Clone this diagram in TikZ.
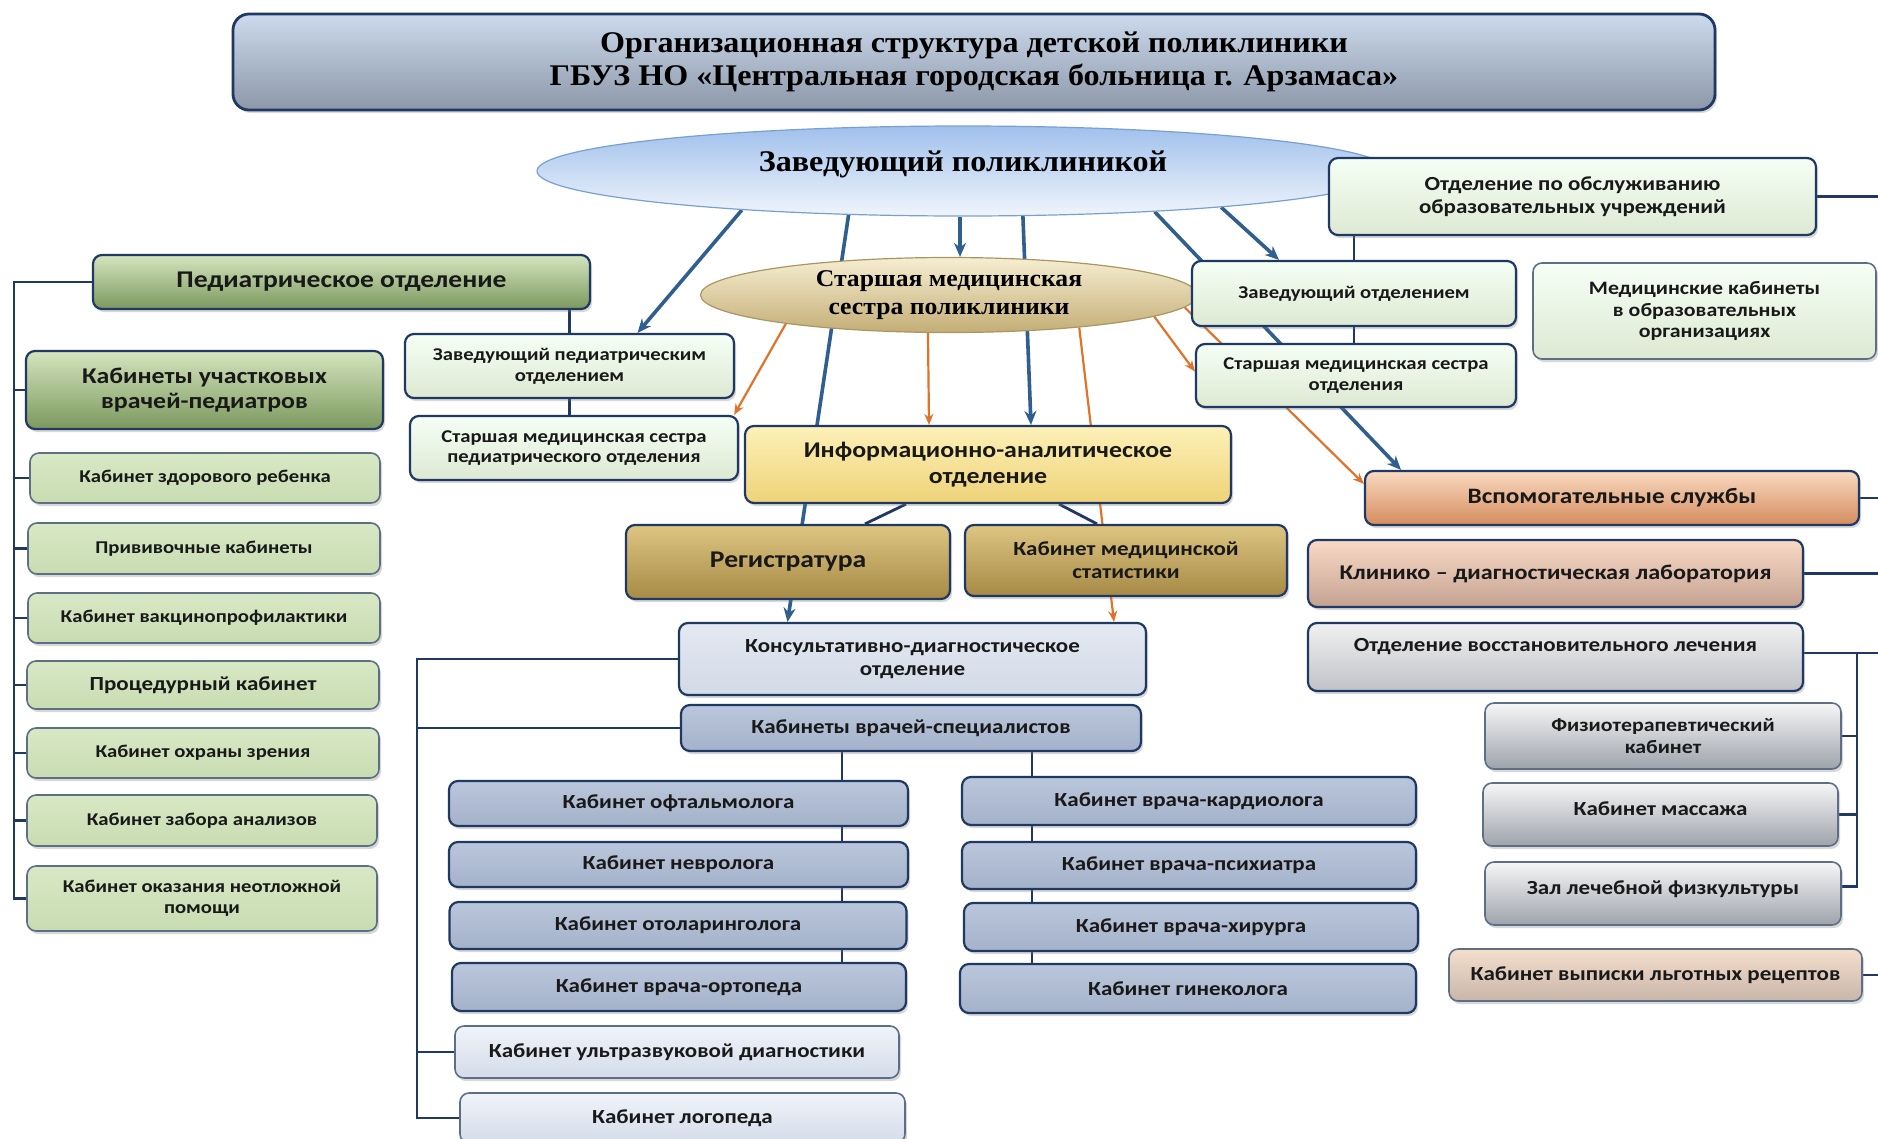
\documentclass[tikz,border=0pt]{standalone}
\usepackage{fontspec}
\setmainfont{Carlito}[FakeStretch=1.15]
\newfontfamily\serifb{Liberation Serif}[FakeStretch=1.07]
\usetikzlibrary{shapes.geometric,shadows,backgrounds,arrows.meta}

\definecolor{navy}{HTML}{1F3864}
\definecolor{bluearr}{HTML}{2F5F8F}
\definecolor{orarr}{HTML}{E0732A}
\definecolor{bordgray}{HTML}{5C6F86}

\tikzset{
  shd/.style={drop shadow={shadow xshift=2pt, shadow yshift=-3pt, opacity=0.3}},
  basebox/.style={rounded corners=9pt, align=center, inner sep=2pt, text=black!90, shd},
  tf/.code={\pgfmathsetmacro\tfls{#1*1.15}\tikzset{font=\fontsize{#1}{\tfls}\selectfont\bfseries}},
  palebox/.style={basebox, draw=navy, line width=2.2pt, top color=black!2!green!4!white, bottom color={rgb,255:red,221;green,233;blue,211}},
  gbox/.style={basebox, draw=bordgray, line width=1.6pt, top color={rgb,255:red,216;green,232;blue,197}, bottom color={rgb,255:red,200;green,220;blue,178}},
  darkg/.style={basebox, draw=navy, line width=2.2pt, top color={rgb,255:red,212;green,229;blue,190}, bottom color={rgb,255:red,124;green,152;blue,94}},
  infob/.style={basebox, draw=navy, line width=2.2pt, top color={rgb,255:red,253;green,241;blue,184}, bottom color={rgb,255:red,238;green,210;blue,120}},
  regb/.style={basebox, draw=navy, line width=2.2pt, top color={rgb,255:red,222;green,197;blue,130}, bottom color={rgb,255:red,166;green,138;blue,70}},
  konsb/.style={basebox, draw=navy, line width=2.2pt, top color={rgb,255:red,228;green,233;blue,242}, bottom color={rgb,255:red,210;green,218;blue,231}},
  specb/.style={basebox, draw=navy, line width=2.2pt, top color={rgb,255:red,186;green,198;blue,219}, bottom color={rgb,255:red,164;green,178;blue,202}},
  uzib/.style={basebox, draw=bordgray, line width=1.6pt, top color={rgb,255:red,240;green,243;blue,249}, bottom color={rgb,255:red,212;green,220;blue,234}},
  vspb/.style={basebox, draw=navy, line width=2.2pt, top color={rgb,255:red,250;green,218;blue,193}, bottom color={rgb,255:red,212;green,140;blue,94}},
  klinb/.style={basebox, draw=navy, line width=2.2pt, top color={rgb,255:red,249;green,218;blue,198}, bottom color={rgb,255:red,196;green,162;blue,146}},
  grayb/.style={basebox, draw=navy, line width=2.2pt, top color={rgb,255:red,241;green,241;blue,241}, bottom color={rgb,255:red,192;green,194;blue,199}},
  fizb/.style={basebox, draw=bordgray, line width=1.6pt, top color={rgb,255:red,246;green,246;blue,246}, bottom color={rgb,255:red,158;green,163;blue,171}},
  vypb/.style={basebox, draw=bordgray, line width=1.6pt, top color={rgb,255:red,245;green,222;blue,204}, bottom color={rgb,255:red,200;green,182;blue,170}},
  tree/.style={draw=navy, line width=2.8pt},
  barr/.style={draw=bluearr, line width=3.6pt, -{Stealth[length=14pt,width=12pt]}},
  oarr/.style={draw=orarr, line width=2.2pt, -{Stealth[length=11pt,width=9pt]}},
}

\begin{document}
\begin{tikzpicture}[x=1pt,y=-1pt]
\useasboundingbox (0,0) rectangle (1878,1138);

% title
\node[rounded corners=16pt, draw=navy, line width=2.8pt, top color={rgb,255:red,205;green,218;blue,237}, bottom color={rgb,255:red,140;green,152;blue,168}, shd, minimum width=1482pt, minimum height=96pt, align=center, font=\serifb\fontsize{30}{33}\selectfont\bfseries] (title) at (974,62)
 {Организационная структура детской поликлиники\\ГБУЗ НО «Центральная городская больница г. Арзамаса»};

% ellipses
\node[ellipse, draw={rgb,255:red,120;green,160;blue,210}, line width=1.2pt, top color={rgb,255:red,160;green,192;blue,236}, bottom color={rgb,255:red,240;green,245;blue,252}, minimum width=852pt, minimum height=90pt, inner sep=0pt, text depth=20pt, font=\serifb\fontsize{30}{36}\selectfont\bfseries] (zav) at (963,171) {Заведующий поликлиникой};
\node[ellipse, draw={rgb,255:red,170;green,150;blue,100}, line width=1.2pt, top color={rgb,255:red,246;green,238;blue,210}, bottom color={rgb,255:red,196;green,174;blue,118}, minimum width=497pt, minimum height=75pt, inner sep=0pt, align=center, font=\serifb\fontsize{24}{28}\selectfont\bfseries] (nurse) at (949,295) {Старшая медицинская\\сестра поликлиники};

% left column
\node[darkg, tf=24, minimum width=497pt, minimum height=54pt] (ped) at (341.5,282) {Педиатрическое отделение};
\node[darkg, tf=22.5, minimum width=357pt, minimum height=78pt] (uch) at (204.5,390) {Кабинеты участковых\\врачей-педиатров};
\node[gbox, tf=18, minimum width=350pt, minimum height=50pt] (g1) at (205,478) {Кабинет здорового ребенка};
\node[gbox, tf=18, minimum width=352pt, minimum height=51pt] (g2) at (204,548.5) {Прививочные кабинеты};
\node[gbox, tf=18, minimum width=352pt, minimum height=50pt] (g3) at (204,618) {Кабинет вакцинопрофилактики};
\node[gbox, tf=20, minimum width=352pt, minimum height=48pt] (g4) at (203,685) {Процедурный кабинет};
\node[gbox, tf=18, minimum width=352pt, minimum height=50pt] (g5) at (203,753) {Кабинет охраны зрения};
\node[gbox, tf=18, minimum width=350pt, minimum height=51pt] (g6) at (202,820.5) {Кабинет забора анализов};
\node[gbox, tf=18, minimum width=350pt, minimum height=65pt] (g7) at (202,898.5) {Кабинет оказания неотложной\\помощи};

% pediatric management
\node[palebox, tf=18, minimum width=329pt, minimum height=64pt] (zavped) at (569.5,366) {Заведующий педиатрическим\\отделением};
\node[palebox, tf=18, minimum width=328pt, minimum height=64pt] (nurseped) at (574,448) {Старшая медицинская сестра\\педиатрического отделения};

% center
\node[infob, tf=22.5, minimum width=486pt, minimum height=77pt] (info) at (988,464.5) {Информационно-аналитическое\\отделение};
\node[regb, tf=24, minimum width=324pt, minimum height=74pt] (reg) at (788,562) {Регистратура};
\node[regb, tf=20, minimum width=322pt, minimum height=71pt] (stat) at (1126,560.5) {Кабинет медицинской\\статистики};
\node[konsb, tf=20, minimum width=467pt, minimum height=72pt] (kons) at (912.5,659) {Консультативно-диагностическое\\отделение};
\node[specb, tf=20, minimum width=460pt, minimum height=46pt] (spec) at (911,728) {Кабинеты врачей-специалистов};

\node[specb, tf=20, minimum width=459pt, minimum height=45pt] (s1) at (678.5,803.5) {Кабинет офтальмолога};
\node[specb, tf=20, minimum width=459pt, minimum height=45pt] (s2) at (678.5,864.5) {Кабинет невролога};
\node[specb, tf=20, minimum width=457pt, minimum height=47pt] (s3) at (678,925.5) {Кабинет отоларинголога};
\node[specb, tf=20, minimum width=454pt, minimum height=48pt] (s4) at (679,987) {Кабинет врача-ортопеда};
\node[uzib, tf=20, minimum width=444pt, minimum height=52pt] (s5) at (677,1052) {Кабинет ультразвуковой диагностики};
\node[uzib, tf=20, minimum width=445pt, minimum height=50pt] (s6) at (682.5,1118) {Кабинет логопеда};

\node[specb, tf=20, minimum width=454pt, minimum height=48pt] (r1) at (1189,801) {Кабинет врача-кардиолога};
\node[specb, tf=20, minimum width=454pt, minimum height=47pt] (r2) at (1189,865.5) {Кабинет врача-психиатра};
\node[specb, tf=20, minimum width=454pt, minimum height=48pt] (r3) at (1191,927) {Кабинет врача-хирурга};
\node[specb, tf=20, minimum width=456pt, minimum height=49pt] (r4) at (1188,988.5) {Кабинет гинеколога};

% right upper
\node[palebox, tf=20, minimum width=487pt, minimum height=77pt] (obsl) at (1572.5,196.5) {Отделение по обслуживанию\\образовательных учреждений};
\node[palebox, tf=18, minimum width=324pt, minimum height=65pt] (zavotd) at (1354,293.5) {Заведующий отделением};
\node[palebox, tf=18, minimum width=320pt, minimum height=63pt] (nurseotd) at (1356,375.5) {Старшая медицинская сестра\\отделения};
\node[palebox, draw=bordgray, line width=1.6pt, tf=19, minimum width=343pt, minimum height=96pt] (medkab) at (1704.5,311) {Медицинские кабинеты\\в образовательных\\организациях};

% right lower
\node[vspb, tf=22, minimum width=494pt, minimum height=54pt] (vspom) at (1612,498) {Вспомогательные службы};
\node[klinb, tf=21, minimum width=495pt, minimum height=67pt] (klin) at (1555.5,573.5) {Клинико – диагностическая лаборатория};
\node[grayb, tf=20, minimum width=495pt, minimum height=68pt, text depth=28pt, text height=16pt] (vosst) at (1555.5,657) {Отделение восстановительного лечения};
\node[fizb, tf=19, minimum width=356pt, minimum height=66pt] (fiz) at (1663,736) {Физиотерапевтический\\кабинет};
\node[fizb, tf=20, minimum width=355pt, minimum height=63pt, text depth=12pt] (mass) at (1660.5,814.5) {Кабинет массажа};
\node[fizb, tf=20, minimum width=356pt, minimum height=63pt, text depth=12pt] (zal) at (1663,893.5) {Зал лечебной физкультуры};
\node[vypb, tf=20, minimum width=413pt, minimum height=52pt] (vyp) at (1655.5,975) {Кабинет выписки льготных рецептов};

% helper coordinates for bus lines
\coordinate (lb) at (14,0);
\coordinate (kb) at (417,0);
\coordinate (cl) at (842,0);
\coordinate (cr) at (1032,0);
\coordinate (rb) at (1857,0);
\coordinate (re) at (1878,0);

\begin{pgfonlayer}{background}
\fill[white] (0,0) rectangle (1878,1138);
% left bus
\draw[tree] (ped.west) -- (ped.west -| lb) -- (g7.west -| lb) -- (g7.west);
\foreach \n in {uch,g1,g2,g3,g4,g5,g6} \draw[tree] (\n.west -| lb) -- (\n.west);
\draw[tree] (zavped.north) -- (zavped.north |- ped.south);
\draw[tree] (zavped.south) -- (zavped.south |- nurseped.north);
% consultative bus
\draw[tree] (kons.west) -- (kons.west -| kb) -- (s6.west -| kb) -- (s6.west);
\foreach \n in {spec,s5} \draw[tree] (\n.west -| kb) -- (\n.west);
\draw[tree, line width=2pt] (spec.south -| cl) -- (s4.north -| cl);
\draw[tree] (spec.south -| cr) -- (r4.north -| cr);
% info to reg/stat
\draw[tree] ([xshift=-82pt]info.south) -- ([xshift=77pt]reg.north);
\draw[tree] ([xshift=71pt]info.south) -- ([xshift=-29pt]stat.north);
% right side
\draw[tree] (zavotd.north) -- (zavotd.north |- obsl.south);
\draw[tree] (zavotd.south) -- (zavotd.south |- nurseotd.north);
\draw[tree] (obsl.east) -- (obsl.east -| re);
\draw[tree] (vspom.east) -- (vspom.east -| re);
\draw[tree] (klin.east) -- (klin.east -| re);
\draw[tree] (vyp.east) -- (vyp.east -| re);
\draw[tree] ([yshift=4pt]vosst.east) -- ([yshift=4pt]vosst.east -| re);
\draw[tree] ([yshift=4pt]vosst.east -| rb) -- ([yshift=7pt]zal.east -| rb) -- ([yshift=7pt]zal.east);
\foreach \n in {fiz,mass} \draw[tree] (\n.east -| rb) -- (\n.east);

% blue arrows from head
\draw[barr] (zav.190.5) -- ([xshift=68pt]zavped.north);
\draw[barr] (zav.201.9) -- ([xshift=-125pt]kons.north);
\draw[barr] ([xshift=-3pt]zav.south) -- ([xshift=11pt]nurse.north);
\draw[barr] (zav.323.4) -- ([xshift=43pt]info.north);
\draw[barr] (zav.348.7) -- ([xshift=-211pt]vspom.north);
\draw[barr] (zav.352.7) -- ([xshift=-75pt]zavotd.north);

% orange arrows from senior nurse
\draw[oarr] (nurse.190.7) -- ([xshift=-5pt]nurseped.north east);
\draw[oarr] (nurse.241.9) -- ([xshift=-59pt]info.north);
\draw[oarr] (nurse.346.6) -- ([xshift=201.5pt]kons.north);
\draw[oarr] (nurse.354.3) -- ([yshift=4pt]nurseotd.west);
\draw[oarr] (nurse.357.8) -- ([yshift=-14pt]vspom.north west);
\end{pgfonlayer}
\end{tikzpicture}
\end{document}
